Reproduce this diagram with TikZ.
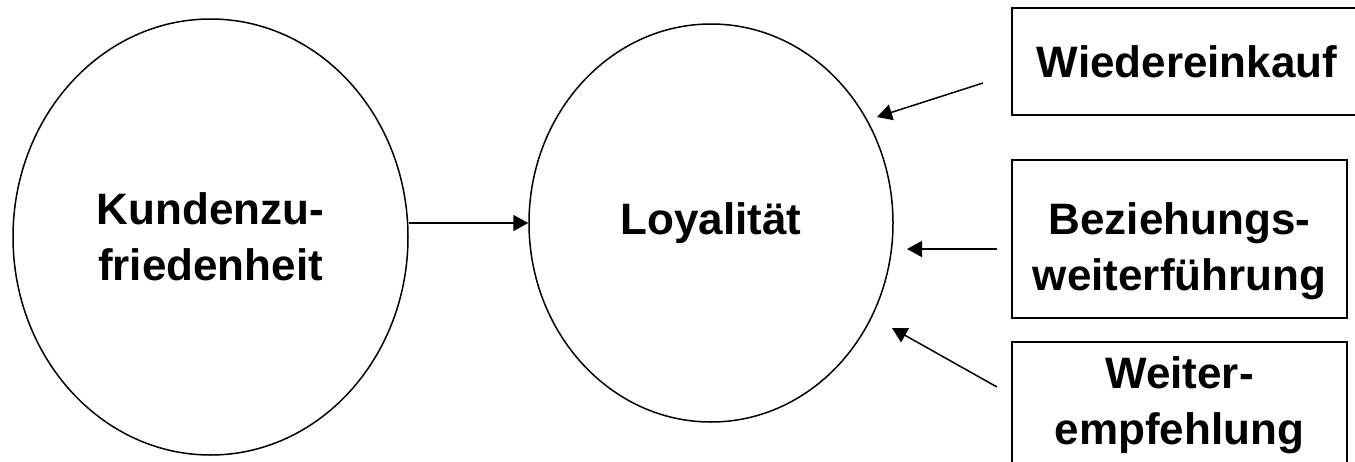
\documentclass[tikz,border=0pt]{standalone}
\usepackage{fontspec}
\setmainfont{Liberation Sans}
\usetikzlibrary{arrows.meta}
\usetikzlibrary{shapes.geometric}

\begin{document}
\begin{tikzpicture}[
            x = 0.5pt, y = -0.5pt, % pixel grid, y pointing down
            > = {Triangle[length=7.5pt,width=8pt]}, % arrow head style
            line width = 0.75pt,
            font = \fontsize{22}{28}\selectfont\bfseries
        ]

        \tikzstyle{construct}=[
            draw,
            ellipse,
            inner sep = 0pt,
            align = center
        ]
        \tikzstyle{indicator}=[
            draw,
            rectangle,
            inner sep = 0pt
        ]
        \tikzstyle{label text}=[
            inner sep = 0pt,
            align = center
        ]

        \useasboundingbox (0,0) rectangle (1355,461);

	% constructs
        \node[construct, minimum width = 197.5pt, minimum height = 218pt] (KZ) at (210.5,237) {Kundenzu-\\friedenheit};
        \node[construct, minimum width = 182pt, minimum height = 199pt] (L) at (711,223) {Loyalität};

        \path[->] (L.west -| KZ.east) edge node {} (L.west);

	% indicators
        \node[indicator, minimum width = 175pt, minimum height = 53.5pt] (W) at (1187,61.5) {};
        \node[label text] (Wt) at (W.center) {Wiedereinkauf};

        \node[indicator, minimum width = 167.5pt, minimum height = 79pt] (B) at (1179.5,239) {};
        \node[label text] (Bt) at ([yshift=-6pt]B.center) {Beziehungs-\\weiterführung};

        \node[indicator, minimum width = 167.5pt, minimum height = 80pt] (E) at (1179.5,422) {};
        \node[label text] (Et) at ([yshift=8.5pt]E.center) {Weiter-\\empfehlung};

        % arrow ends between boxes and loyalty
        \coordinate (W1) at (983,83);
        \coordinate (W2) at (877,117);
        \coordinate (B1) at (997,249);
        \coordinate (B2) at (907,249);
        \coordinate (E1) at (997,387);
        \coordinate (E2) at (892,328);

        \path[->] (W1) edge node {} (W2);
        \path[->] (B1) edge node {} (B2);
        \path[->] (E1) edge node {} (E2);

\end{tikzpicture}
\end{document}
